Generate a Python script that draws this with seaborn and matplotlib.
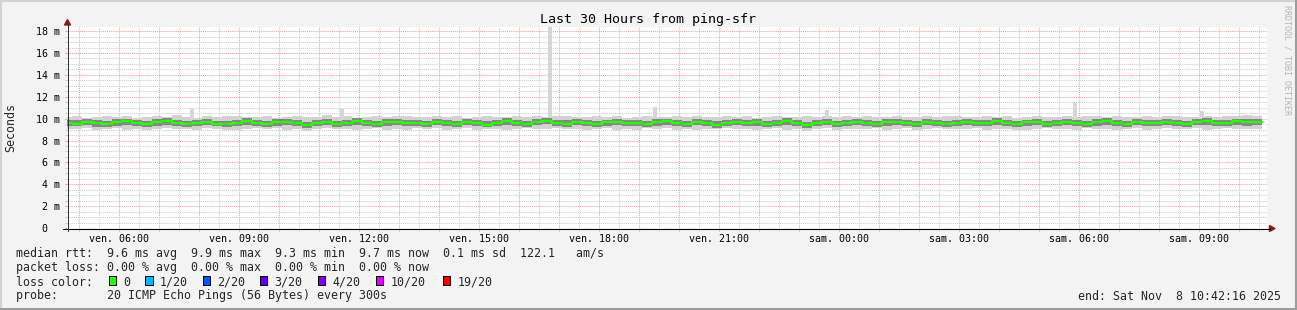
import numpy as np
import matplotlib
matplotlib.use("Agg")
import matplotlib.pyplot as plt
import matplotlib.dates as mdates
from matplotlib.ticker import MultipleLocator, FuncFormatter
from matplotlib.patches import Rectangle, Polygon
from matplotlib.lines import Line2D
import seaborn as sns
from datetime import datetime, timedelta

# ---------------- data ----------------
title = "Last 30 Hours from ping-sfr"
graph_start = datetime(2025, 11, 7, 4, 42, 16)
graph_end = datetime(2025, 11, 8, 10, 42, 16)
first_step = datetime(2025, 11, 7, 4, 35)
step_minutes = 15

median = [
    9.62, 9.55, 9.70, 9.58, 9.48, 9.66, 9.74, 9.57, 9.50, 9.68,
    9.76, 9.60, 9.52, 9.64, 9.71, 9.55, 9.47, 9.63, 9.80, 9.58,
    9.50, 9.67, 9.73, 9.56, 9.44, 9.61, 9.69, 9.53, 9.62, 9.75,
    9.59, 9.49, 9.66, 9.72, 9.57, 9.63, 9.51, 9.68, 9.60, 9.54,
    9.70, 9.58, 9.46, 9.64, 9.77, 9.59, 9.52, 9.69, 9.82, 9.61,
    9.55, 9.73, 9.60, 9.48, 9.65, 9.71, 9.56, 9.62, 9.50, 9.67,
    9.74, 9.58, 9.53, 9.69, 9.61, 9.45, 9.63, 9.72, 9.57, 9.66,
    9.52, 9.60, 9.75, 9.62, 9.43, 9.58, 9.68, 9.55, 9.64, 9.70,
    9.57, 9.49, 9.66, 9.73, 9.60, 9.54, 9.71, 9.63, 9.47, 9.59,
    9.68, 9.56, 9.62, 9.76, 9.58, 9.51, 9.65, 9.70, 9.55, 9.61,
    9.73, 9.57, 9.48, 9.66, 9.79, 9.60, 9.53, 9.69, 9.62, 9.56,
    9.71, 9.64, 9.50, 9.67, 9.78, 9.61, 9.58, 9.74, 9.66, 9.72,
]
smoke_min = [
    9.08, 9.02, 9.12, 8.98, 9.05, 9.14, 9.00, 9.09, 8.95, 9.06,
    9.12, 9.03, 9.07, 8.93, 9.10, 9.04, 9.00, 8.99, 9.08, 9.11,
    9.01, 9.10, 8.97, 9.05, 8.90, 9.07, 9.13, 9.02, 9.09, 8.98,
    9.06, 9.13, 9.00, 9.08, 8.95, 9.10, 9.03, 9.11, 8.99, 9.06,
    9.12, 8.98, 9.04, 9.09, 8.94, 9.07, 9.13, 9.01, 9.06, 9.10,
    9.02, 9.09, 8.96, 9.05, 9.11, 9.00, 9.07, 8.92, 9.10, 9.04,
    9.12, 8.99, 9.06, 8.97, 9.09, 9.03, 9.11, 9.01, 9.07, 8.95,
    9.05, 9.10, 8.98, 9.06, 8.91, 9.04, 9.11, 9.00, 9.08, 9.02,
    9.09, 9.13, 8.99, 9.05, 9.10, 8.96, 9.06, 9.12, 9.01, 9.07,
    9.03, 9.11, 8.97, 9.06, 9.09, 9.00, 8.93, 9.05, 9.10, 9.02,
    9.08, 8.98, 9.12, 9.04, 9.09, 9.00, 9.06, 9.11, 8.97, 9.05,
    9.10, 9.02, 9.07, 9.13, 8.99, 9.06, 9.11, 9.03, 9.09, 9.05,
]
smoke_q1 = [
    9.33, 9.30, 9.38, 9.28, 9.22, 9.36, 9.40, 9.31, 9.25, 9.37,
    9.42, 9.33, 9.26, 9.35, 9.39, 9.29, 9.21, 9.34, 9.45, 9.30,
    9.24, 9.37, 9.41, 9.29, 9.18, 9.33, 9.38, 9.27, 9.34, 9.43,
    9.31, 9.23, 9.36, 9.40, 9.30, 9.35, 9.25, 9.38, 9.32, 9.27,
    9.39, 9.31, 9.20, 9.35, 9.44, 9.32, 9.26, 9.38, 9.47, 9.33,
    9.28, 9.41, 9.33, 9.22, 9.36, 9.40, 9.29, 9.34, 9.24, 9.37,
    9.42, 9.31, 9.27, 9.38, 9.33, 9.19, 9.35, 9.41, 9.30, 9.37,
    9.26, 9.33, 9.43, 9.34, 9.17, 9.31, 9.38, 9.28, 9.36, 9.39,
    9.30, 9.23, 9.37, 9.41, 9.32, 9.28, 9.40, 9.35, 9.21, 9.32,
    9.38, 9.29, 9.34, 9.44, 9.31, 9.25, 9.36, 9.40, 9.28, 9.33,
    9.42, 9.30, 9.22, 9.37, 9.46, 9.32, 9.27, 9.39, 9.34, 9.29,
    9.40, 9.36, 9.24, 9.38, 9.45, 9.33, 9.31, 9.42, 9.37, 9.41,
]
smoke_q3 = [
    9.90, 9.84, 9.97, 9.86, 9.78, 9.93, 10.01, 9.85, 9.79, 9.95,
    10.03, 9.88, 9.81, 9.92, 9.98, 9.83, 9.76, 9.90, 10.06, 9.86,
    9.79, 9.94, 10.00, 9.84, 9.73, 9.89, 9.96, 9.82, 9.90, 10.02,
    9.87, 9.78, 9.93, 9.99, 9.85, 9.91, 9.80, 9.95, 9.88, 9.83,
    9.97, 9.86, 9.75, 9.92, 10.04, 9.87, 9.81, 9.96, 10.08, 9.89,
    9.84, 10.00, 9.88, 9.77, 9.92, 9.98, 9.84, 9.90, 9.79, 9.94,
    10.01, 9.86, 9.82, 9.96, 9.89, 9.74, 9.91, 9.99, 9.85, 9.93,
    9.81, 9.88, 10.02, 9.90, 9.72, 9.86, 9.95, 9.83, 9.92, 9.97,
    9.85, 9.78, 9.93, 10.00, 9.88, 9.83, 9.98, 9.91, 9.76, 9.87,
    9.95, 9.84, 9.90, 10.03, 9.86, 9.80, 9.92, 9.97, 9.83, 9.89,
    10.00, 9.85, 9.77, 9.93, 10.06, 9.88, 9.82, 9.96, 9.90, 9.84,
    9.98, 9.92, 9.79, 9.94, 10.05, 9.89, 9.86, 10.01, 9.93, 9.99,
]
smoke_max = [
    10.16, 10.22, 10.10, 10.19, 10.26, 10.13, 10.21, 10.08, 10.17, 10.24,
    10.15, 10.29, 10.18, 10.10, 10.22, 10.14, 10.20, 10.27, 10.12, 10.18,
    10.23, 10.09, 10.16, 10.25, 10.13, 10.19, 10.30, 10.15, 10.21, 10.10,
    10.17, 10.24, 10.14, 10.20, 10.26, 10.11, 10.18, 10.23, 10.15, 10.21,
    10.10, 10.17, 10.25, 10.13, 10.19, 10.22, 10.16, 10.28, 10.14, 10.20,
    10.23, 10.12, 10.18, 10.26, 10.15, 10.21, 10.08, 10.17, 10.24, 10.13,
    10.19, 10.25, 10.14, 10.20, 10.11, 10.17, 10.23, 10.16, 10.21, 10.09,
    10.18, 10.24, 10.13, 10.19, 10.27, 10.15, 10.20, 10.12, 10.22, 10.16,
    10.23, 10.14, 10.19, 10.25, 10.11, 10.17, 10.22, 10.15, 10.20, 10.26,
    10.13, 10.18, 10.24, 10.16, 10.21, 10.10, 10.17, 10.23, 10.15, 10.19,
    10.25, 10.14, 10.20, 10.27, 10.16, 10.21, 10.13, 10.18, 10.24, 10.17,
    10.22, 10.28, 10.19, 10.14, 10.23, 10.17, 10.25, 10.20, 10.29, 10.23,
]
# isolated slow pings (start time, highest rtt in ms)
spike_times = [
    datetime(2025, 11, 7, 7, 47), datetime(2025, 11, 7, 11, 32),
    datetime(2025, 11, 7, 16, 44), datetime(2025, 11, 7, 19, 21),
    datetime(2025, 11, 7, 23, 39), datetime(2025, 11, 8, 5, 51),
    datetime(2025, 11, 8, 9, 2),
]
spike_tops = [10.85, 10.9, 18.4, 11.05, 10.8, 11.5, 10.72]

y_ticks = [0, 2, 4, 6, 8, 10, 12, 14, 16, 18]
y_tick_labels = ["0  ", "2 m", "4 m", "6 m", "8 m", "10 m", "12 m", "14 m", "16 m", "18 m"]
day_names = ["lun.", "mar.", "mer.", "jeu.", "ven.", "sam.", "dim."]

legend_rows = [
    "median rtt:  9.6 ms avg  9.9 ms max  9.3 ms min  9.7 ms now  0.1 ms sd  122.1   am/s",
    "packet loss: 0.00 % avg  0.00 % max  0.00 % min  0.00 % now",
    "loss color:",
    "probe:       20 ICMP Echo Pings (56 Bytes) every 300s",
]
loss_labels = ["0", "1/20", "2/20", "3/20", "4/20", "10/20", "19/20"]
loss_colors = ["#26ff00", "#00b8ff", "#0059ff", "#5e00ff", "#7e00ff", "#dd00ff", "#ff0000"]
end_text = "end: Sat Nov  8 10:42:16 2025"

# ---------------- figure ----------------
W, H = 1297, 310
sns.set_theme(style="white")
plt.rcParams["font.family"] = ["DejaVu Sans Mono", "DejaVu Sans"]

fig = plt.figure(figsize=(W / 100, H / 100), dpi=100, facecolor="#f3f3f3")
PL, PR, PT, PB = 67, 1267, 27, 228
YTOP = 18.38
ax = fig.add_axes([PL / W, 1 - PB / H, (PR - PL) / W, (PB - PT) / H])
ax.set_facecolor("white")

def fx(px):
    return px / W

def fy(py):
    return 1 - py / H

edges = mdates.date2num([first_step + timedelta(minutes=step_minutes * i) for i in range(len(median) + 1)])

def ext(a):
    return list(a) + [a[-1]]

# smoke
ax.fill_between(edges, ext(smoke_min), ext(smoke_max), step="post", color="#d2d2d2", lw=0, zorder=2)
ax.fill_between(edges, ext(smoke_q1), ext(smoke_q3), step="post", color="#868686", lw=0, zorder=3)
for t, top in zip(spike_times, spike_tops):
    xs = mdates.date2num([t, t + timedelta(minutes=6)])
    ax.fill_between(xs, [9.7, 9.7], [top, top], color="#d6d6d6", lw=0, zorder=2)

# median line
sns.lineplot(x=edges, y=ext(median), ax=ax, color="#26ff00", lw=1.7,
             drawstyle="steps-post", zorder=5, estimator=None, sort=False)

ax.set_xlim(mdates.date2num(graph_start), mdates.date2num(graph_end))
ax.set_ylim(0, YTOP)

# axes / grid
ax.xaxis.set_major_locator(mdates.HourLocator())
ax.xaxis.set_minor_locator(mdates.MinuteLocator(byminute=[30]))

def xfmt(v, pos):
    d = mdates.num2date(v)
    if d.hour % 3 == 0 and d.minute == 0:
        return f"{day_names[d.weekday()]} {d.hour:02d}:00"
    return ""

ax.xaxis.set_major_formatter(FuncFormatter(xfmt))
ax.set_yticks(y_ticks)
ax.set_yticklabels(y_tick_labels)
ax.yaxis.set_minor_locator(MultipleLocator(0.5))

ax.set_axisbelow(True)
ax.grid(which="major", color="#e8a4a4", linestyle=(0, (1, 1)), linewidth=0.75, zorder=0)
ax.grid(which="minor", color="#cccccc", linestyle=(0, (1, 1)), linewidth=0.75, zorder=0)
ax.tick_params(axis="both", which="major", length=1.8, width=0.75, color="#e0a0a0",
               labelsize=7.2, labelcolor="black")
ax.tick_params(axis="both", which="minor", length=1.8, width=0.75, color="#cccccc")
ax.tick_params(axis="x", which="both", pad=2.2, bottom=True)
ax.tick_params(axis="y", which="both", pad=3.4, left=True)
for s in ax.spines.values():
    s.set_visible(False)

# axis lines and arrows
fig.add_artist(Line2D([fx(63), fx(1270)], [fy(228.5), fy(228.5)], color="black", lw=0.75))
fig.add_artist(Line2D([fx(67.5), fx(67.5)], [fy(231), fy(24)], color="#333333", lw=0.75))
fig.add_artist(Polygon([[fx(67.5), fy(19.5)], [fx(64.5), fy(25)], [fx(70.5), fy(25)]],
                       closed=True, color="#8b1a1a", transform=fig.transFigure))
fig.add_artist(Polygon([[fx(1275), fy(228.5)], [fx(1269.5), fy(225.5)], [fx(1269.5), fy(231.5)]],
                       closed=True, color="#8b1a1a", transform=fig.transFigure))

# texts
fig.text(fx(648), fy(19), title, ha="center", va="center", fontsize=9.6, color="black")
fig.text(fx(11), fy(127), "Seconds", rotation=90, ha="center", va="center", fontsize=8.4)
fig.text(fx(1287), fy(60), "RRDTOOL / TOBI OETIKER", rotation=-90, ha="center", va="center",
         fontsize=6.0, color="#b5b5b5")

row_y = [254, 268, 282, 296]
for txt, yy in zip(legend_rows, row_y):
    fig.text(fx(16), fy(yy), txt, ha="left", va="center", fontsize=8.37)

box_x = [108.7, 145.3, 202.7, 260, 318, 376, 443]
for bx, lab, col in zip(box_x, loss_labels, loss_colors):
    fig.add_artist(Rectangle((fx(bx), fy(284.5)), 7.3 / W, 9 / H, transform=fig.transFigure,
                             facecolor=col, edgecolor="black", lw=0.7))
    fig.text(fx(bx + 14.5), fy(282), lab, ha="left", va="center", fontsize=8.37)

fig.text(fx(1280.5), fy(296), end_text, ha="right", va="center", fontsize=8.37)

# bevelled border
fig.add_artist(Line2D([0, 1], [fy(1), fy(1)], color="#d2d2d2", lw=1.5))
fig.add_artist(Line2D([fx(1), fx(1)], [0, 1], color="#d2d2d2", lw=1.5))
fig.add_artist(Line2D([0, 1], [fy(308.5), fy(308.5)], color="#9c9c9c", lw=2.2))
fig.add_artist(Line2D([fx(1295.5), fx(1295.5)], [0, 1], color="#9c9c9c", lw=2.2))

fig.savefig("out.png", dpi=100, facecolor=fig.get_facecolor())
